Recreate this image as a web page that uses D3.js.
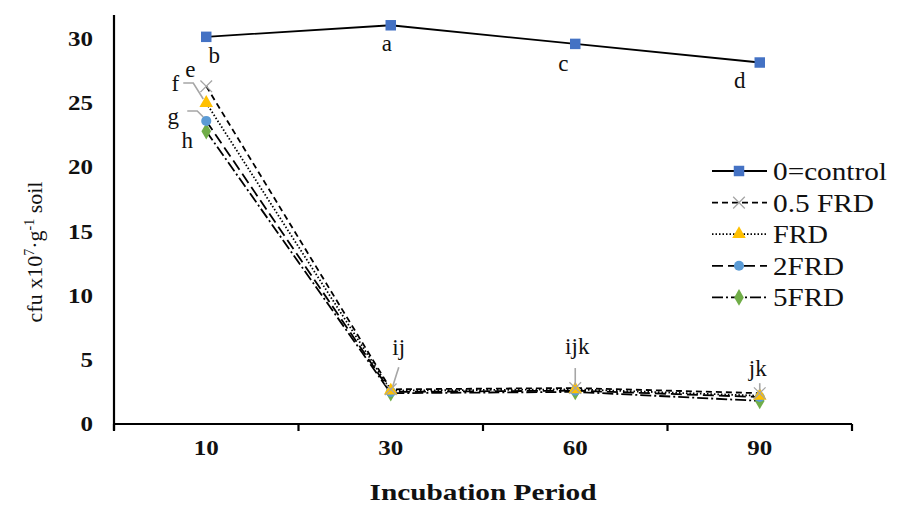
<!DOCTYPE html>
<html lang="en">
<head>
    <meta charset="UTF-8">
    <title>Incubation period chart</title>
    <script src="https://cdnjs.cloudflare.com/ajax/libs/d3/7.8.5/d3.min.js"></script>
    <style>
        body { margin: 0; background: #fff; }
        .tick-label { font-weight: bold; font-size: 21px; }
    </style>
</head>
<body>
    <script type="text/javascript">
        const width = 900;
        const height = 506;
        const serif = "'Liberation Serif', 'Times New Roman', 'DejaVu Serif', serif";

        const periods = ["10", "30", "60", "90"];
        const seriesNames = ["0=control", "0.5 FRD", "FRD", "2FRD", "5FRD"];
        const control = [30.15, 31.05, 29.6, 28.15];
        const frdHalf = [26.3, 2.7, 2.8, 2.4];
        const frd = [25.0, 2.6, 2.7, 2.2];
        const frd2 = [23.6, 2.5, 2.6, 2.1];
        const frd5 = [22.8, 2.4, 2.5, 1.8];
        const yTicks = [0, 5, 10, 15, 20, 25, 30];
        const controlLetters = ["b", "a", "c", "d"];
        const frdLetters = ["e", "f", "g", "h"];
        const lowLetters = ["ij", "ijk", "jk"];

        const padLeft = 114, padRight = 852, padTop = 15, padBottom = 424;

        const x = d3.scaleBand().domain(periods).range([padLeft, padRight]);
        const y = d3.scaleLinear().domain([0, 31.85]).range([padBottom, padTop]);
        const cx = function(p) { return x(p) + x.bandwidth() / 2; };

        const series = [
            { name: seriesNames[0], values: control, dash: null, color: "#4472c4", symbol: d3.symbolSquare, size: 110 },
            { name: seriesNames[1], values: frdHalf, dash: "6,4", color: "#a5a5a5", symbol: d3.symbolX, size: 90 },
            { name: seriesNames[2], values: frd, dash: "1.5,2", color: "#ffc000", symbol: d3.symbolTriangle, size: 80 },
            { name: seriesNames[3], values: frd2, dash: "11,5", color: "#5b9bd5", symbol: d3.symbolCircle, size: 80 },
            { name: seriesNames[4], values: frd5, dash: "11,3,2,3", color: "#70ad47", symbol: d3.symbolDiamond, size: 80 }
        ];

        const svg = d3.select("body").append("svg")
            .attr("width", width)
            .attr("height", height)
            .attr("font-family", serif);

        // the reference text is a bit wider than the font, so stretch it
        const stretch = function(sel, perChar) {
            sel.attr("textLength", function() { return this.textContent.length * perChar; })
               .attr("lengthAdjust", "spacingAndGlyphs");
        };

        // y axis
        const yAxis = svg.append("g")
            .attr("transform", "translate(" + padLeft + ",0)")
            .call(d3.axisLeft(y).tickValues(yTicks).tickSize(0).tickPadding(21));
        yAxis.select(".domain").attr("stroke", "#000").attr("stroke-width", 2.2)
            .attr("d", "M0," + padTop + "V" + (padBottom + 6));
        yAxis.selectAll("text").attr("class", "tick-label").attr("fill", "#111").call(stretch, 12.5);

        // x axis
        const xAxis = svg.append("g")
            .attr("transform", "translate(0," + padBottom + ")")
            .call(d3.axisBottom(x).tickSize(0).tickPadding(16));
        xAxis.select(".domain").attr("stroke", "#000").attr("stroke-width", 2.2)
            .attr("d", "M" + padLeft + ",0H" + padRight);
        xAxis.selectAll("text").attr("class", "tick-label").attr("fill", "#111").call(stretch, 12.5);
        const bounds = periods.map(function(p) { return x(p); }).concat([padRight]);
        svg.selectAll(".xbound")
            .data(bounds)
            .enter()
            .append("line")
            .attr("x1", function(d) { return d; })
            .attr("x2", function(d) { return d; })
            .attr("y1", padBottom)
            .attr("y2", padBottom + 7)
            .attr("stroke", "#000")
            .attr("stroke-width", 2.2);

        // lines
        const line = d3.line()
            .x(function(d, i) { return cx(periods[i]); })
            .y(function(d) { return y(d); });

        series.slice().reverse().forEach(function(s) {
            svg.append("path")
                .attr("d", line(s.values))
                .attr("fill", "none")
                .attr("stroke", "#000")
                .attr("stroke-width", 1.8)
                .attr("stroke-dasharray", s.dash);
        });

        // markers
        series.slice().reverse().forEach(function(s) {
            svg.selectAll(null)
                .data(s.values)
                .enter()
                .append("path")
                .attr("d", d3.symbol().type(s.symbol).size(s.size))
                .attr("transform", function(d, i) { return "translate(" + cx(periods[i]) + "," + y(d) + ")"; })
                .attr("fill", s.symbol === d3.symbolX ? "none" : s.color)
                .attr("stroke", s.symbol === d3.symbolX ? s.color : "none")
                .attr("stroke-width", 1.3);
        });

        // letters for control
        const ctrlOffsets = [[8, 26], [-4, 26], [-12, 27], [-20, 25]];
        svg.selectAll(".ctrl-letter")
            .data(controlLetters)
            .enter()
            .append("text")
            .attr("x", function(d, i) { return cx(periods[i]) + ctrlOffsets[i][0]; })
            .attr("y", function(d, i) { return y(control[i]) + ctrlOffsets[i][1]; })
            .attr("text-anchor", "middle")
            .attr("font-size", 23)
            .attr("fill", "#111")
            .text(function(d) { return d; });

        // letters at 10 days, with leaders
        const firstVals = [frdHalf[0], frd[0], frd2[0], frd5[0]];
        const frdOffsets = [[-16, -9], [-31, -12], [-33, 3], [-19, 17]];
        svg.selectAll(".frd-letter")
            .data(frdLetters)
            .enter()
            .append("text")
            .attr("x", function(d, i) { return cx(periods[0]) + frdOffsets[i][0]; })
            .attr("y", function(d, i) { return y(firstVals[i]) + frdOffsets[i][1]; })
            .attr("text-anchor", "middle")
            .attr("font-size", 23)
            .attr("fill", "#111")
            .text(function(d) { return d; });

        const leaderColor = "#a6a6a6";
        [[frd[0], -23, -20], [frd2[0], -19, -10]].forEach(function(l) {
            const px = cx(periods[0]), py = y(l[0]);
            svg.append("path")
                .attr("d", "M" + (px + l[1]) + "," + (py + l[2]) + "h10L" + (px - 3) + "," + (py - 4))
                .attr("fill", "none")
                .attr("stroke", leaderColor)
                .attr("stroke-width", 1.6);
        });

        // letters for the low points
        const lowOffsets = [[8, -34], [2, -34], [-2, -17]];
        const leaderEnds = [[[8, -22], [2, -3]], [[0, -20], [0, -3]], [[0, -10], [0, -3]]];
        lowLetters.forEach(function(t, k) {
            const px = cx(periods[k + 1]), py = y(frdHalf[k + 1]);
            svg.append("text")
                .attr("x", px + lowOffsets[k][0])
                .attr("y", py + lowOffsets[k][1])
                .attr("text-anchor", "middle")
                .attr("font-size", 23)
                .attr("fill", "#111")
                .text(t);
            svg.append("line")
                .attr("x1", px + leaderEnds[k][0][0])
                .attr("y1", py + leaderEnds[k][0][1])
                .attr("x2", px + leaderEnds[k][1][0])
                .attr("y2", py + leaderEnds[k][1][1])
                .attr("stroke", leaderColor)
                .attr("stroke-width", 1.6);
        });

        // axis titles
        svg.append("text")
            .attr("transform", "translate(42," + 252 + ") rotate(-90)")
            .attr("text-anchor", "middle")
            .attr("font-size", 22)
            .attr("fill", "#111")
            .html('cfu x10<tspan dy="-8" font-size="14">7</tspan><tspan dy="8">·g</tspan><tspan dy="-8" font-size="14">-1</tspan><tspan dy="8"> soil</tspan>');

        svg.append("text")
            .attr("x", 483)
            .attr("y", 500)
            .attr("text-anchor", "middle")
            .attr("font-size", 24)
            .attr("font-weight", "bold")
            .attr("fill", "#111")
            .attr("textLength", 227)
            .attr("lengthAdjust", "spacingAndGlyphs")
            .text("Incubation Period");

        // legend
        const legend = svg.append("g").attr("transform", "translate(712,171)");
        const item = legend.selectAll(".item")
            .data(series)
            .enter()
            .append("g")
            .attr("transform", function(d, i) { return "translate(0," + (i * 31.6) + ")"; });
        item.append("line")
            .attr("x1", 0).attr("x2", 55)
            .attr("stroke", "#000")
            .attr("stroke-width", 1.8)
            .attr("stroke-dasharray", function(d) { return d.dash; });
        item.append("path")
            .attr("d", function(d) { return d3.symbol().type(d.symbol).size(d.size)(); })
            .attr("transform", "translate(27,0)")
            .attr("fill", function(d) { return d.symbol === d3.symbolX ? "none" : d.color; })
            .attr("stroke", function(d) { return d.symbol === d3.symbolX ? d.color : "none"; })
            .attr("stroke-width", 1.3);
        const legendWidths = [114, 101, 55, 71, 71];
        item.append("text")
            .attr("x", 61)
            .attr("y", 9)
            .attr("font-size", 26)
            .attr("fill", "#111")
            .attr("textLength", function(d, i) { return legendWidths[i]; })
            .attr("lengthAdjust", "spacingAndGlyphs")
            .text(function(d) { return d.name; });

        // the axis groups set their own sans-serif family, so set it on every text
        svg.selectAll("text").attr("font-family", serif);
    </script>
</body>
</html>
